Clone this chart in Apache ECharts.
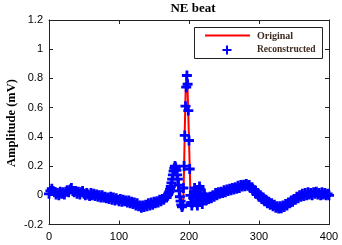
<!DOCTYPE html>
<html>
<head>
<meta charset="utf-8">
<script src="https://cdn.jsdelivr.net/npm/echarts@6/dist/echarts.min.js"></script>
<style>html,body{margin:0;padding:0;background:#fff;}#c{width:342px;height:245px;}</style>
</head>
<body>
<div id="c"></div>
<script>
const sampleIndex = [
0,2,4,6,8,10,12,14,16,18,20,22,24,26,28,30,32,34,36,38,40,42,44,46,48,50,52,54,56,58,60,62,64,66,68,70,72,74,76,78,80,82,84,86,88,90,92,94,96,98,100,102,104,106,108,110,112,114,116,118,120,122,124,126,128,130,132,134,136,138,140,142,144,146,148,150,152,154,156,158,160,162,164,166,168,
169,170,171,172,173,174,175,176,177,178,179,180,181,182,183,184,185,186,187,188,189,190,191,192,193,194,195,196,197,198,199,200,201,202,203,204,205,206,207,208,209,210,211,212,213,214,215,216,217,218,219,220,221,222,223,224,225,226,
228,230,232,234,236,238,240,242,244,246,248,250,252,254,256,258,260,262,264,266,268,270,272,274,276,278,280,282,284,286,288,290,292,294,296,298,300,302,304,306,308,310,312,314,316,318,320,322,324,326,328,330,332,334,336,338,340,342,344,346,348,350,352,354,356,358,360,362,364,366,368,370,372,374,376,378,380,382,384,386,388,390,392,394,396,398,400];

const original = [
0.01,0.03,0.045,0.03,0.02,0.005,0.015,0.0,0.025,0.01,
0.02,0.005,0.025,0.035,0.02,0.04,0.05,0.03,0.02,0.03,
0.01,0.025,0.005,0.02,0.03,0.01,0.0,0.015,0.005,-0.005,
0.015,0.0,0.01,-0.005,0.005,-0.01,0.0,-0.015,0.0,-0.015,
-0.01,-0.02,-0.015,-0.025,-0.01,-0.03,-0.015,-0.035,-0.02,-0.03,
-0.04,-0.025,-0.045,-0.03,-0.04,-0.035,-0.05,-0.035,-0.055,-0.045,
-0.06,-0.05,-0.07,-0.055,-0.075,-0.07,-0.085,-0.07,-0.08,-0.065,
-0.075,-0.055,-0.07,-0.05,-0.065,-0.045,-0.055,-0.04,-0.05,-0.03,
-0.04,-0.025,-0.03,-0.01,-0.015,
0.0,0.005,0.015,0.025,0.04,0.06,0.085,0.11,0.14,0.165,0.185,0.2,0.19,0.17,0.14,0.11,0.07,0.03,-0.01,-0.04,-0.065,-0.08,-0.07,-0.02,0.2,0.45,0.68,0.83,0.83,0.72,0.55,0.38,0.2,0.02,-0.04,-0.07,-0.05,-0.02,0.02,0.05,0.03,-0.01,-0.05,-0.07,-0.04,0.01,0.06,0.04,0.0,-0.04,-0.06,-0.03,0.0,0.01,-0.01,-0.025,-0.03,-0.025,
-0.025,-0.01,-0.02,0.0,-0.01,0.015,0.0,0.02,0.01,0.025,
0.015,0.035,0.02,0.04,0.03,0.045,0.035,0.05,0.04,0.055,
0.045,0.065,0.05,0.07,0.06,0.072,0.062,0.078,0.065,0.07,
0.05,0.055,0.03,0.035,0.01,0.015,-0.01,0.0,-0.025,-0.015,
-0.04,-0.03,-0.055,-0.045,-0.065,-0.055,-0.075,-0.065,-0.085,-0.075,
-0.09,-0.075,-0.088,-0.07,-0.08,-0.06,-0.07,-0.05,-0.055,-0.035,
-0.045,-0.025,-0.03,-0.01,-0.02,0.0,-0.01,0.01,-0.005,0.015,
0.0,0.02,0.005,0.015,0.0,0.02,0.01,0.025,0.005,0.015,
0.0,0.02,0.005,0.015,0.0,0.01,0.0];

const reconstructed = [
0.01,0.03,0.045,0.03,0.02,0.005,0.015,0.0,0.025,0.01,
0.02,0.005,0.025,0.035,0.02,0.04,0.05,0.03,0.02,0.03,
0.01,0.025,0.005,0.02,0.03,0.01,0.0,0.015,0.005,-0.005,
0.015,0.0,0.01,-0.005,0.005,-0.01,0.0,-0.015,0.0,-0.015,
-0.01,-0.02,-0.015,-0.025,-0.01,-0.03,-0.015,-0.035,-0.02,-0.03,
-0.04,-0.025,-0.045,-0.03,-0.04,-0.035,-0.05,-0.035,-0.055,-0.045,
-0.06,-0.05,-0.07,-0.055,-0.075,-0.07,-0.085,-0.07,-0.08,-0.065,
-0.075,-0.055,-0.07,-0.05,-0.065,-0.045,-0.055,-0.04,-0.05,-0.03,
-0.04,-0.025,-0.03,-0.01,-0.015,
0.0,0.005,0.015,0.025,0.04,0.06,0.085,0.11,0.14,0.165,0.185,0.2,0.19,0.17,0.14,0.11,0.07,0.03,-0.01,-0.04,-0.065,-0.08,-0.07,0.05,0.2,0.41,0.61,0.74,0.82,0.76,0.58,0.375,0.18,0.0,-0.05,-0.07,-0.05,-0.02,0.02,0.05,0.03,-0.01,-0.05,-0.07,-0.04,0.01,0.06,0.04,0.0,-0.04,-0.06,-0.03,0.0,0.01,-0.01,-0.025,-0.03,-0.025,
-0.025,-0.01,-0.02,0.0,-0.01,0.015,0.0,0.02,0.01,0.025,
0.015,0.035,0.02,0.04,0.03,0.045,0.035,0.05,0.04,0.055,
0.045,0.065,0.05,0.07,0.06,0.072,0.062,0.078,0.065,0.07,
0.05,0.055,0.03,0.035,0.01,0.015,-0.01,0.0,-0.025,-0.015,
-0.04,-0.03,-0.055,-0.045,-0.065,-0.055,-0.075,-0.065,-0.085,-0.075,
-0.09,-0.075,-0.088,-0.07,-0.08,-0.06,-0.07,-0.05,-0.055,-0.035,
-0.045,-0.025,-0.03,-0.01,-0.02,0.0,-0.01,0.01,-0.005,0.015,
0.0,0.02,0.005,0.015,0.0,0.02,0.01,0.025,0.005,0.015,
0.0,0.02,0.005,0.015,0.0,0.01,0.0];

const xTicks = [0, 100, 200, 300, 400];
const yTicks = [-0.2, 0, 0.2, 0.4, 0.6, 0.8, 1, 1.2];
const titleText = 'NE beat';
const yName = 'Amplitude (mV)';
const seriesNames = ['Original', 'Reconstructed'];

const plusPath = 'path://M3.6,0H6.4V3.6H10V6.4H6.4V10H3.6V6.4H0V3.6H3.6Z';
const serif = '"Liberation Serif", "Times New Roman", serif';
const sans = '"Liberation Sans", Arial, sans-serif';

const chart = echarts.init(document.getElementById('c'), null, {renderer: 'canvas'});
const axisLineStyle = {show: true, onZero: false, lineStyle: {color: '#222', width: 1}};
const tickStyle = {show: true, inside: true, length: 4, lineStyle: {color: '#222', width: 1}};

chart.setOption({
  animation: false,
  backgroundColor: '#fff',
  title: {
    text: titleText, left: 188, top: -3, textAlign: 'center',
    textStyle: {fontFamily: serif, fontWeight: 'bold', fontSize: 13, color: '#000'}
  },
  grid: {left: 49, right: 13, top: 20, bottom: 20.5, containLabel: false, outerBoundsMode: 'none'},
  xAxis: [{
    type: 'value', min: xTicks[0], max: xTicks[xTicks.length - 1], interval: 100,
    position: 'bottom', axisLine: axisLineStyle, axisTick: tickStyle, splitLine: {show: false},
    axisLabel: {margin: 7, fontFamily: sans, fontSize: 11, color: '#000'}
  }, {
    type: 'value', min: xTicks[0], max: xTicks[xTicks.length - 1], interval: 100,
    position: 'top', axisLine: axisLineStyle, axisTick: tickStyle, splitLine: {show: false},
    axisLabel: {show: false}
  }],
  yAxis: [{
    type: 'value', min: yTicks[0], max: yTicks[yTicks.length - 1], interval: 0.2,
    position: 'left', axisLine: axisLineStyle, axisTick: tickStyle, splitLine: {show: false},
    axisLabel: {margin: 6, fontFamily: sans, fontSize: 11, color: '#000',
      formatter: v => String(Math.round(v * 10) / 10)}
  }, {
    type: 'value', min: yTicks[0], max: yTicks[yTicks.length - 1], interval: 0.2,
    position: 'right', axisLine: axisLineStyle, axisTick: tickStyle, splitLine: {show: false},
    axisLabel: {show: false}
  }],
  series: [{
    name: seriesNames[0], type: 'line', xAxisIndex: 0, yAxisIndex: 0,
    data: sampleIndex.map((x, i) => [x, original[i]]),
    showSymbol: false, symbol: 'none', lineStyle: {color: '#ff0000', width: 2}, z: 2
  }, {
    name: seriesNames[1], type: 'scatter', xAxisIndex: 0, yAxisIndex: 0,
    data: sampleIndex.map((x, i) => [x, reconstructed[i]]),
    symbol: plusPath, symbolSize: 10, itemStyle: {color: '#0000ff', opacity: 1}, z: 3
  }],
  graphic: [
    {type: 'text', x: 12, y: 123, rotation: Math.PI / 2, style: {text: yName, font: 'bold 12.5px ' + serif, fill: '#000', align: 'center', verticalAlign: 'middle'}, z: 11},
    {type: 'rect', shape: {x: 194.5, y: 27.5, width: 128, height: 31}, style: {fill: '#fff', stroke: '#222', lineWidth: 1}, z: 10},
    {type: 'line', shape: {x1: 205, y1: 35.5, x2: 250, y2: 35.5}, style: {stroke: '#ff0000', lineWidth: 2}, z: 11},
    {type: 'polygon', shape: {points: [[226,45.5],[228,45.5],[228,49],[231.5,49],[231.5,51],[228,51],[228,54.5],[226,54.5],[226,51],[222.5,51],[222.5,49],[226,49]]}, style: {fill: '#0000ff'}, z: 11},
    {type: 'text', x: 257, y: 36, style: {text: seriesNames[0], font: 'bold 10px ' + serif, fill: '#3d2b1f', verticalAlign: 'middle', align: 'left'}, z: 11},
    {type: 'text', x: 257, y: 50, style: {text: seriesNames[1], font: 'bold 9.5px ' + serif, fill: '#3d2b1f', verticalAlign: 'middle', align: 'left'}, z: 11}
  ]
});
</script>
</body>
</html>
